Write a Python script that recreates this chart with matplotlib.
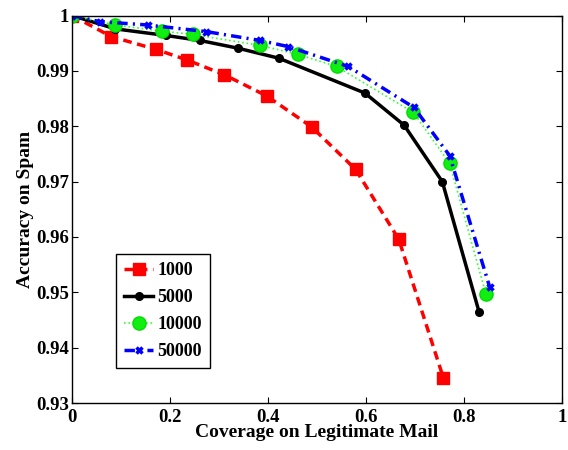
import matplotlib
matplotlib.use("Agg")
import matplotlib.pyplot as plt
from matplotlib.ticker import FuncFormatter

# --- Dados ---
x_1000 = [0.0, 0.080, 0.171, 0.234, 0.311, 0.397, 0.489, 0.579, 0.667, 0.758]
y_1000 = [1.0, 0.9962, 0.9939, 0.9920, 0.9893, 0.9855, 0.9799, 0.9722, 0.9596, 0.9346]

x_5000 = [0.0, 0.088, 0.192, 0.261, 0.339, 0.422, 0.598, 0.678, 0.756, 0.831]
y_5000 = [1.0, 0.9976, 0.9964, 0.9955, 0.9941, 0.9923, 0.9860, 0.9802, 0.9700, 0.9465]

x_10000 = [0.0, 0.088, 0.183, 0.246, 0.384, 0.461, 0.540, 0.697, 0.771, 0.845]
y_10000 = [1.0, 0.9983, 0.9972, 0.9966, 0.9946, 0.9930, 0.9908, 0.9825, 0.9733, 0.9497]

x_50000 = [0.0, 0.057, 0.154, 0.274, 0.384, 0.441, 0.564, 0.698, 0.771, 0.853]
y_50000 = [1.0, 0.9989, 0.9983, 0.9971, 0.9955, 0.9944, 0.9908, 0.9834, 0.9747, 0.9509]

labels = ['1000', '5000', '10000', '50000']

plt.rcParams['font.family'] = 'Liberation Serif'
plt.rcParams['font.weight'] = 'bold'

fig = plt.figure(figsize=(5.68, 4.5), dpi=100)
ax = fig.add_axes([0.127, 0.1044, 0.862, 0.861])

ax.plot(x_1000, y_1000, color='red', linestyle=(0, (2.5, 1.6)), linewidth=2.5,
        marker='s', markersize=8, label=labels[0])
ax.plot(x_5000, y_5000, color='black', linestyle='-', linewidth=2.5,
        marker='o', markersize=5.5, label=labels[1])
ax.plot(x_10000, y_10000, color='#33ff33', linestyle=':', linewidth=1.2,
        marker='o', markersize=9.5, markeredgecolor='#00dd00', markerfacecolor='#11ee11',
        label=labels[2])
ax.plot(x_50000, y_50000, color='blue', linestyle=(0, (3, 1.5, 0.6, 1.5)), linewidth=2.5,
        marker='x', markersize=5, markeredgewidth=2.5, label=labels[3])

ax.set_xlim(0, 1)
ax.set_ylim(0.93, 1.0)
ax.set_xticks([0, 0.2, 0.4, 0.6, 0.8, 1])
ax.set_yticks([0.93, 0.94, 0.95, 0.96, 0.97, 0.98, 0.99, 1.0])
ax.xaxis.set_major_formatter(FuncFormatter(lambda v, p: '%g' % round(v, 2)))
ax.yaxis.set_major_formatter(FuncFormatter(lambda v, p: '%g' % round(v, 2)))
ax.tick_params(direction='in', top=True, right=True, labelsize=13.5, length=4, width=0.8)
ax.tick_params(axis='x', pad=4)
ax.tick_params(axis='y', pad=2)
for s in ax.spines.values():
    s.set_linewidth(1.0)

ax.set_xlabel('Coverage on Legitimate Mail', fontsize=14, fontweight='bold', labelpad=-1)
ax.set_ylabel('Accuracy on Spam', fontsize=14, fontweight='bold', labelpad=2)

leg = ax.legend(loc='lower left', bbox_to_anchor=(0.0898, 0.0903), borderaxespad=0,
                fontsize=13, fancybox=False, edgecolor='black', framealpha=1,
                handlelength=1.6, borderpad=0.45, labelspacing=0.55, handletextpad=0.25)
leg.get_frame().set_linewidth(1.0)

fig.savefig('out.png', dpi=100)
